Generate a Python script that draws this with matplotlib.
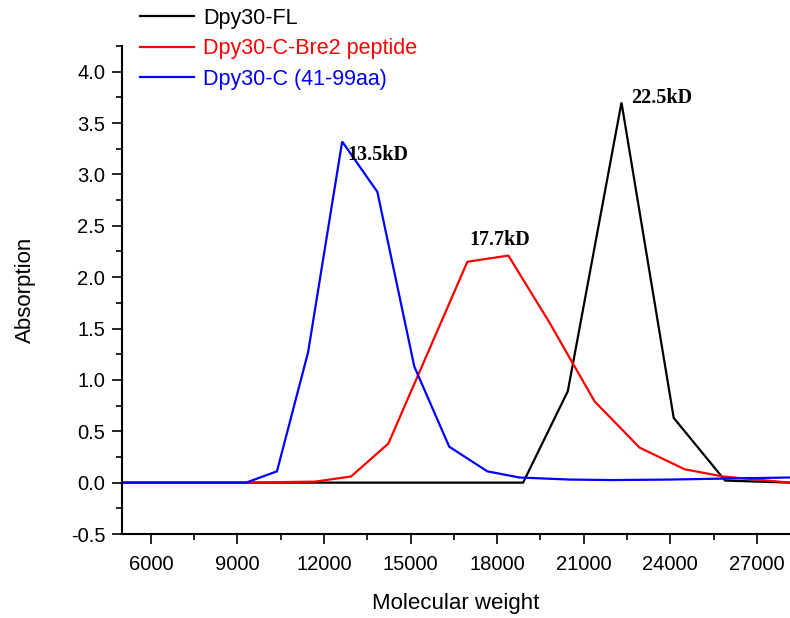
import matplotlib
matplotlib.use("Agg")
import matplotlib.pyplot as plt
from matplotlib.ticker import MultipleLocator

plt.rcParams['font.family'] = ['Liberation Sans', 'DejaVu Sans']
plt.rcParams['axes.unicode_minus'] = False

# gel filtration traces
fl_mw = [5000, 18900, 20450, 22310, 24120, 25900, 28150]
fl_abs = [0.0, 0.0, 0.89, 3.70, 0.63, 0.02, 0.0]

bre2_mw = [5000, 9300, 11700, 12940, 14230, 16970, 18390, 19810, 21380, 22940, 24500, 25820, 28150]
bre2_abs = [0.0, 0.0, 0.01, 0.06, 0.38, 2.15, 2.21, 1.56, 0.79, 0.34, 0.13, 0.06, 0.0]

c_mw = [5000, 9300, 10370, 11450, 12630, 13850, 15130, 16340, 17660, 18770, 20500, 22000, 24000, 26000, 28150]
c_abs = [0.0, 0.0, 0.11, 1.27, 3.32, 2.83, 1.13, 0.35, 0.11, 0.05, 0.03, 0.025, 0.03, 0.04, 0.05]

labels = ['Dpy30-FL', 'Dpy30-C-Bre2 peptide', 'Dpy30-C (41-99aa)']
colors = ['black', '#ff0000', '#0000ff']

# peak labels: text, x, y
peaks = [('13.5kD', 12800, 3.19), ('17.7kD', 17040, 2.36), ('22.5kD', 22630, 3.74)]

fig = plt.figure(figsize=(7.9, 6.18), dpi=100)
ax = fig.add_axes([122 / 790, 84 / 618, 668 / 790, 488 / 618])

series = [(fl_mw, fl_abs), (bre2_mw, bre2_abs), (c_mw, c_abs)]
for (x, y), lab, col in zip(series, labels, colors):
    ax.plot(x, y, color=col, lw=1.6, label=lab, solid_joinstyle='miter')

for txt, x, y in peaks:
    ax.text(x, y, txt, fontsize=14.5, fontweight='bold', family='Liberation Serif',
            ha='left', va='center')

ax.set_xlim(5000, 28150)
ax.set_ylim(-0.5, 4.25)
ax.xaxis.set_major_locator(MultipleLocator(3000))
ax.xaxis.set_minor_locator(MultipleLocator(1500))
ax.yaxis.set_major_locator(MultipleLocator(0.5))
ax.yaxis.set_minor_locator(MultipleLocator(0.25))
ax.yaxis.set_major_formatter(matplotlib.ticker.FormatStrFormatter('%.1f'))

for s in ['top', 'right']:
    ax.spines[s].set_visible(False)
for s in ['left', 'bottom']:
    ax.spines[s].set_linewidth(1.5)

ax.tick_params(which='major', direction='out', length=7, width=1.2, labelsize=14.5)
ax.tick_params(which='minor', direction='out', length=4, width=1.2)
ax.tick_params(axis='x', which='major', pad=8)
ax.tick_params(axis='y', which='major', pad=5)

ax.set_xlabel('Molecular weight', fontsize=16, labelpad=14)
ax.set_ylabel('Absorption', fontsize=16, labelpad=25)

leg = fig.legend(loc='upper left', bbox_to_anchor=(140 / 790, 1 - 8 / 618),
                 frameon=False, fontsize=15.5, handlelength=2.5,
                 handletextpad=0.42, labelspacing=0.43, borderpad=0, borderaxespad=0)
for t, col in zip(leg.get_texts(), colors):
    t.set_color(col)

fig.savefig('out.png', dpi=100)
